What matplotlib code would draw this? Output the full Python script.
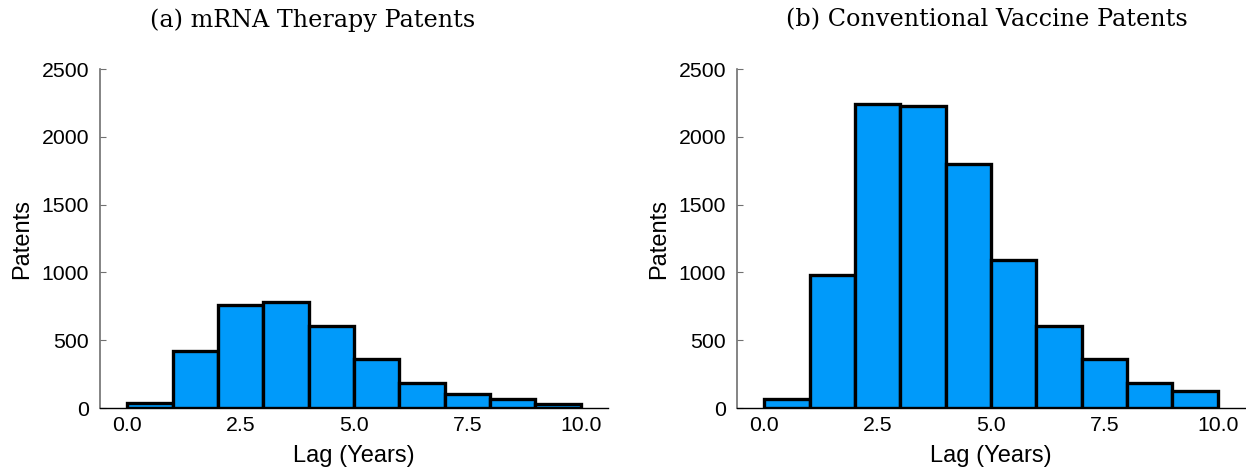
import numpy as np
import matplotlib
matplotlib.use("Agg")
import matplotlib.pyplot as plt

# histogram counts of lag (years) per one-year bin
bin_edges = [0, 1, 2, 3, 4, 5, 6, 7, 8, 9, 10]
mrna_counts = [35, 420, 760, 780, 605, 365, 185, 105, 63, 32]
vaccine_counts = [70, 980, 2240, 2225, 1800, 1095, 605, 365, 187, 125]
titles = ["(a) mRNA Therapy Patents", "(b) Conventional Vaccine Patents"]

plt.rcParams['font.family'] = ['Liberation Sans', 'DejaVu Sans']

fig = plt.figure(figsize=(12.46, 4.67), dpi=100)

boxes = [[0.0803, 0.1263, 0.4077, 0.7259], [0.5915, 0.1263, 0.4077, 0.7259]]
title_x = [0.251, 0.792]

for box, counts, title, tx in zip(boxes, [mrna_counts, vaccine_counts], titles, title_x):
    ax = fig.add_axes(box)
    ax.bar(bin_edges[:-1], counts, width=np.diff(bin_edges), align="edge",
           color="#009AFA", edgecolor="black", linewidth=2.4)
    ax.set_xlim(-0.6, 10.6)
    ax.set_ylim(0, 2500)
    ax.set_xticks([0, 2.5, 5, 7.5, 10])
    ax.set_xticklabels(["0.0", "2.5", "5.0", "7.5", "10.0"])
    ax.set_yticks([0, 500, 1000, 1500, 2000, 2500])
    ax.spines["top"].set_visible(False)
    ax.spines["right"].set_visible(False)
    ax.spines["left"].set_color("#707070")
    ax.spines["left"].set_linewidth(1.2)
    ax.spines["bottom"].set_linewidth(1.0)
    ax.tick_params(axis="y", direction="in", length=4, color="#707070",
                   labelsize=15.3, pad=8)
    ax.tick_params(axis="x", length=0, labelsize=15.3, pad=6)
    ax.set_xlabel("Lag (Years)", fontsize=17, labelpad=7)
    ax.set_ylabel("Patents", fontsize=17, labelpad=6)
    fig.text(tx, 0.957, title, ha="center", va="center",
             fontsize=17.2, family="DejaVu Serif")

fig.savefig("out.png", dpi=100)
